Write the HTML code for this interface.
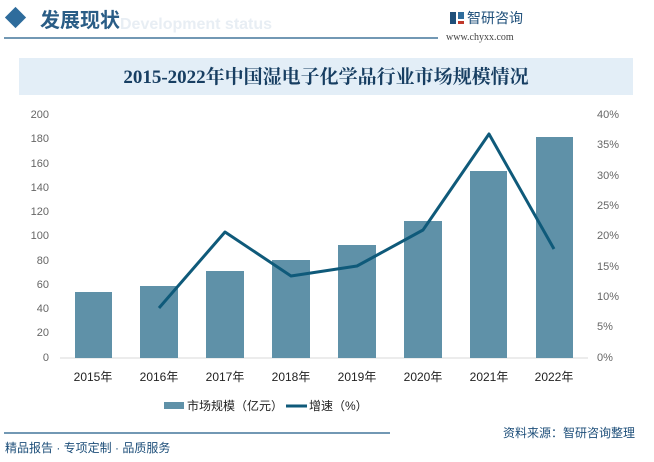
<!DOCTYPE html>
<html><head><meta charset="utf-8"><style>
body{margin:0;width:654px;height:457px;background:#fff;overflow:hidden;font-family:"Liberation Sans","Noto Sans CJK SC",sans-serif}
</style></head><body>
<svg width="654" height="457" xmlns="http://www.w3.org/2000/svg" font-family="Liberation Sans, Noto Sans CJK SC, sans-serif">
<rect x="8" y="10" width="15" height="15" fill="#2e6c9c" transform="rotate(45 15.5 17.5)"/>
<text x="40" y="27" font-size="20" font-weight="bold" fill="#2a5d86" font-family="Noto Sans CJK SC, sans-serif">发展现状</text>
<text x="120" y="29" font-size="16" font-weight="bold" fill="#e8eef4">Development status</text>
<line x1="4" y1="38" x2="438" y2="38" stroke="#1e5a86" stroke-width="1.2"/>
<rect x="450" y="12" width="6" height="12" fill="#1f4f7a"/><rect x="458" y="12" width="6" height="7" fill="#2e6c9c"/><rect x="458" y="21" width="6" height="3" fill="#c0392b"/>
<text x="467" y="23" font-size="14" fill="#1e4f7a" font-family="Noto Sans CJK SC, sans-serif">智研咨询</text>
<text x="446" y="40" font-size="10" fill="#444" font-family="Liberation Serif, serif">www.chyxx.com</text>
<rect x="19" y="58" width="482" height="37" fill="#e3eef7"/>
<rect x="19" y="58" width="614" height="37" fill="#e3eef7"/>
<text x="326" y="83" font-size="19" font-weight="bold" fill="#173e62" text-anchor="middle" font-family="Liberation Serif, Noto Serif CJK SC, serif">2015-2022年中国湿电子化学品行业市场规模情况</text>
<g font-size="11" fill="#666" text-anchor="end">
<text x="49" y="118">200</text><text x="49" y="142">180</text><text x="49" y="167">160</text><text x="49" y="191">140</text><text x="49" y="215">120</text><text x="49" y="239">100</text><text x="49" y="264">80</text><text x="49" y="288">60</text><text x="49" y="312">40</text><text x="49" y="336">20</text><text x="49" y="361">0</text>
</g>
<g font-size="11" fill="#666">
<text x="597" y="118">40%</text><text x="597" y="148">35%</text><text x="597" y="179">30%</text><text x="597" y="209">25%</text><text x="597" y="239">20%</text><text x="597" y="270">15%</text><text x="597" y="300">10%</text><text x="597" y="330">5%</text><text x="597" y="361">0%</text>
</g>
<line x1="60" y1="358" x2="588" y2="358" stroke="#d9d9d9"/>
<g fill="#5f91a8">
<rect x="75" y="292" width="37" height="66"/>
<rect x="140" y="286" width="38" height="72"/>
<rect x="206" y="271" width="38" height="87"/>
<rect x="272" y="260" width="38" height="98"/>
<rect x="338" y="245" width="38" height="113"/>
<rect x="404" y="221" width="38" height="137"/>
<rect x="470" y="171" width="37" height="187"/>
<rect x="536" y="137" width="37" height="221"/>
</g>
<polyline points="159,308 225,232 291,276 357,266 423,230 489,134 554,249" fill="none" stroke="#0f5a7a" stroke-width="3" stroke-linejoin="round"/>
<g font-size="12" fill="#222" text-anchor="middle" font-family="Liberation Sans, Noto Sans CJK SC, sans-serif">
<text x="93" y="381">2015年</text><text x="159" y="381">2016年</text><text x="225" y="381">2017年</text><text x="291" y="381">2018年</text><text x="357" y="381">2019年</text><text x="423" y="381">2020年</text><text x="489" y="381">2021年</text><text x="554" y="381">2022年</text>
</g>
<rect x="164" y="402" width="20" height="7" fill="#5f91a8"/>
<text x="187" y="410" font-size="12" fill="#222">市场规模（亿元）</text>
<line x1="286" y1="406" x2="307" y2="406" stroke="#0f5a7a" stroke-width="3"/>
<text x="309" y="410" font-size="12" fill="#222">增速（%）</text>
<line x1="4" y1="433" x2="390" y2="433" stroke="#1e5a86" stroke-width="1.2"/>
<text x="503" y="437" font-size="12" fill="#1e4f7a">资料来源：智研咨询整理</text>
<text x="5" y="452" font-size="12" fill="#1e4f7a">精品报告 · 专项定制 · 品质服务</text>
</svg>
</body></html>
